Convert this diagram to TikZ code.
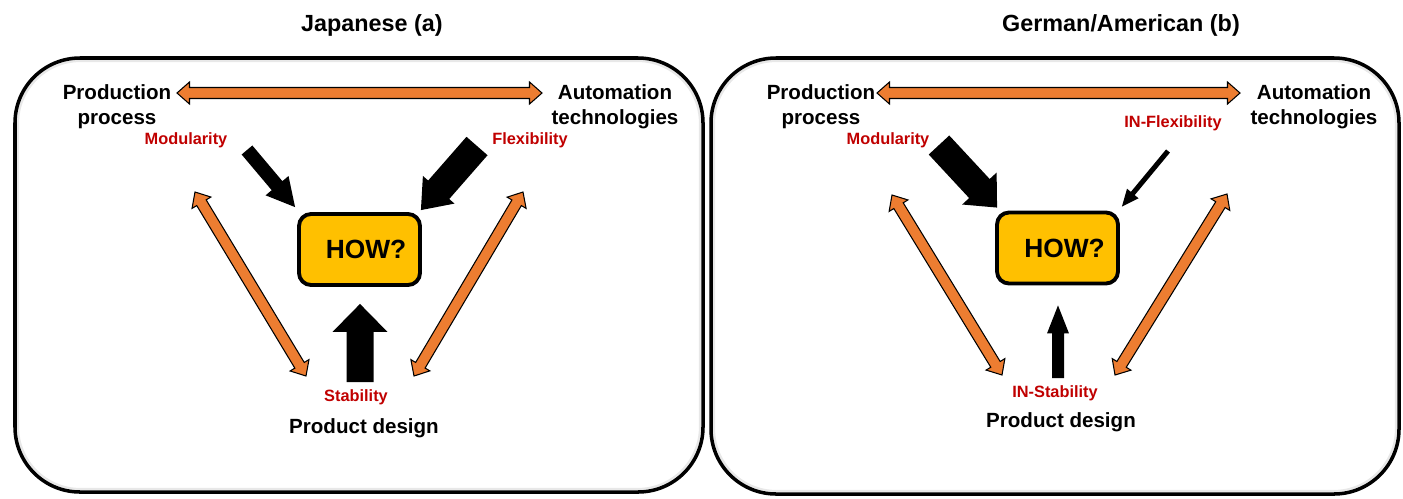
\documentclass[tikz,border=0pt]{standalone}
\usepackage{fontspec}
\setmainfont{Liberation Sans}
\usetikzlibrary{calc}

\definecolor{arroworange}{HTML}{ED7D31}
\definecolor{howyellow}{HTML}{FFC000}
\definecolor{driverred}{HTML}{C00000}

% outlined two-headed arrow from #1 to #2
\newcommand\twoway[2]{%
  \coordinate (tw1) at ($(#1)!0.25cm!(#2)$);
  \coordinate (tw2) at ($(#2)!0.25cm!(#1)$);
  \filldraw[twoway] (#1) -- ($(tw1)!0.22cm!90:(#2)$) -- ($(tw1)!0.11cm!90:(#2)$)
    -- ($(tw2)!0.11cm!-90:(#1)$) -- ($(tw2)!0.22cm!-90:(#1)$) -- (#2)
    -- ($(tw2)!0.22cm!90:(#1)$) -- ($(tw2)!0.11cm!90:(#1)$)
    -- ($(tw1)!0.11cm!-90:(#2)$) -- ($(tw1)!0.22cm!-90:(#2)$) -- cycle;}

% solid block arrow: tail, tip, half shaft, half head, head length
\newcommand\push[5]{%
  \coordinate (pb) at ($(#2)!#5!(#1)$);
  \fill ($(#1)!#3!90:(#2)$) -- ($(pb)!#3!90:(#2)$) -- ($(pb)!#4!90:(#2)$) -- (#2)
    -- ($(pb)!#4!-90:(#2)$) -- ($(pb)!#3!-90:(#2)$) -- ($(#1)!#3!-90:(#2)$) -- cycle;}

\begin{document}
\begin{tikzpicture}[x=0.02cm, y=-0.02cm,
  panel/.style={draw, line width=2pt, rounded corners=1.3cm},
  glow/.style={draw=black!20, line width=1.2pt, opacity=0.45, rounded corners=1.25cm},
  title/.style={font=\fontsize{13.3}{16}\selectfont\bfseries},
  factor/.style={font=\fontsize{11.7}{14.4}\selectfont\bfseries, align=center},
  driver/.style={font=\fontsize{9.3}{11}\selectfont\bfseries, text=driverred},
  howbox/.style={draw, fill=howyellow, line width=2.2pt, rounded corners=0.24cm,
    minimum width=2.42cm, minimum height=1.42cm, inner sep=0pt,
    font=\fontsize{15}{18}\selectfont\bfseries},
  twoway/.style={draw=black, fill=arroworange, line width=0.6pt}
]
\useasboundingbox (0,0) rectangle (1403,498);

% panels
\draw[glow] (18,61) rectangle (700,489);
\draw[panel] (15,58) rectangle (703,492);
\draw[glow] (714,61) rectangle (1396,491);
\draw[panel] (711,58) rectangle (1399,494);

% ---- Japanese (a)
\node[title] (titleA) at (372,25) {Japanese (a)};
\node[factor] (procA) at (117,107) {Production\\process};
\node[factor] (autoA) at (615,107) {Automation\\technologies};
\node[factor] (designA) at (364,428) {Product design};
\node[driver] (modA) at (186,140) {Modularity};
\node[driver] (flexA) at (530,140) {Flexibility};
\node[driver] (stabA) at (356,397) {Stability};
\node[howbox] (howA) at (359.5,249.5) {\hspace{0.26cm}HOW?};

\coordinate (procAend) at (177,93);
\coordinate (autoAend) at (542,93);
\coordinate (procAlow) at (195,192);
\coordinate (designAleft) at (306,376);
\coordinate (designAright) at (414,376);
\coordinate (autoAlow) at (523,192);
\twoway{procAend}{autoAend}
\twoway{procAlow}{designAleft}
\twoway{designAright}{autoAlow}

\coordinate (modAtail) at (247,150);
\coordinate (modAtip) at ($(howA.north west)+(-2,-5)$);
\coordinate (flexAtail) at (477,146);
\coordinate (flexAtip) at ($(howA.north east)+(-1,-2)$);
\coordinate (stabAtail) at (360,382);
\coordinate (stabAtip) at ($(howA.south)+(0.5,17)$);
\push{modAtail}{modAtip}{0.14cm}{0.30cm}{0.56cm}
\push{flexAtail}{flexAtip}{0.28cm}{0.42cm}{0.54cm}
\push{stabAtail}{stabAtip}{0.27cm}{0.55cm}{0.56cm}

% ---- German/American (b)
\node[title] (titleB) at (1121,25) {German/American (b)};
\node[factor] (procB) at (821,107) {Production\\process};
\node[factor] (autoB) at (1314,107) {Automation\\technologies};
\node[factor] (designB) at (1061,422) {Product design};
\node[driver] (modB) at (888,140) {Modularity};
\node[driver] (flexB) at (1173,123) {IN-Flexibility};
\node[driver] (stabB) at (1055,393) {IN-Stability};
\node[howbox] (howB) at (1057.5,248) {\hspace{0.28cm}HOW?};

\coordinate (procBend) at (877,93);
\coordinate (autoBend) at (1240,93);
\coordinate (procBlow) at (892,195);
\coordinate (designBleft) at (1002,375);
\coordinate (designBright) at (1115,375);
\coordinate (autoBlow) at (1227,194);
\twoway{procBend}{autoBend}
\twoway{procBlow}{designBleft}
\twoway{designBright}{autoBlow}

\coordinate (modBtail) at (939,145);
\coordinate (modBtip) at ($(howB.north west)+(2,-3)$);
\coordinate (flexBtail) at (1168,151);
\coordinate (flexBtip) at ($(howB.north east)+(2,-4)$);
\coordinate (stabBtail) at (1058,378);
\coordinate (stabBtip) at ($(howB.south)+(0.5,20)$);
\push{modBtail}{modBtip}{0.28cm}{0.47cm}{0.52cm}
\push{flexBtail}{flexBtip}{0.05cm}{0.15cm}{0.34cm}
\push{stabBtail}{stabBtip}{0.12cm}{0.22cm}{0.56cm}
\end{tikzpicture}
\end{document}
